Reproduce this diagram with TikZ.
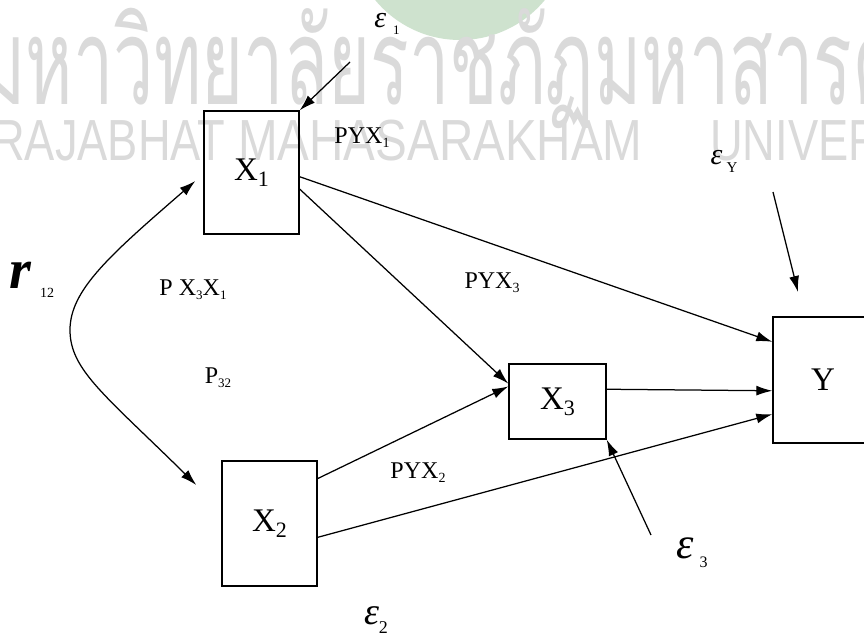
\documentclass[tikz,border=0pt]{standalone}
\usepackage{fontspec}
\setmainfont{Liberation Serif}
\newfontfamily\thaifont[Script=Thai]{Loma}
\newfontfamily\wmsans{Liberation Sans}
\usetikzlibrary{arrows.meta}
\definecolor{wm}{RGB}{218,218,218}
\definecolor{wmgreen}{RGB}{206,226,206}
\newcommand\mysub[3]{\raisebox{#1}{\fontsize{#2}{#2}\selectfont #3}}
\begin{document}
\begin{tikzpicture}[x=1pt,y=-1pt,
  box/.style={draw,line width=1.4pt,inner sep=0pt,font=\fontsize{33}{33}\selectfont},
  lab/.style={inner sep=0pt,font=\fontsize{24}{24}\selectfont},
  eps/.style={inner sep=0pt},
  conn/.style={line width=1.25pt,-{Latex[length=16pt,width=10pt]}},
  wmtext/.style={inner sep=0pt,anchor=base west,text=wm}]
\clip (0,0) rectangle (864,638);
\fill[white] (0,0) rectangle (864,638);
% watermark
\fill[wmgreen] (460,-70) circle (110);
\node[wmtext] (wth) at (-22,104) {\thaifont\fontsize{120}{120}\selectfont\scalebox{0.6}[1]{มหาวิทยาลัยราชภัฏมหาสารคาม}};
\node[wmtext] (wen1) at (-8,160) {\wmsans\fontsize{58}{58}\selectfont\scalebox{0.78}[1]{RAJABHAT}};
\node[wmtext] (wen2) at (238,160) {\wmsans\fontsize{58}{58}\selectfont\scalebox{0.82}[1]{MAHASARAKHAM}};
\node[wmtext] (wen3) at (710,160) {\wmsans\fontsize{58}{58}\selectfont\scalebox{0.78}[1]{UNIVERSITY}};
% boxes
\node[box,minimum width=95pt,minimum height=123pt] (X1) at (251.5,172.5) {X\mysub{-6pt}{22}{1}};
\node[box,minimum width=97pt,minimum height=75pt] (X3) at (557.5,401.5) {X\mysub{-6pt}{22}{3}};
\node[box,minimum width=95pt,minimum height=125pt] (X2) at (269.5,523.5) {X\mysub{-6pt}{22}{2}};
\node[box,minimum width=100pt,minimum height=126pt] (Y) at (823,380) {Y};
% connectors
\draw[conn] (X1.-5) -- (Y.143);
\draw[conn] (X1.-19) -- (X3.160);
\draw[conn] (X2.43) -- (X3.163);
\draw[conn] (X2.-16) -- (Y.-146.6);
\draw[conn] (X3.14.5) -- (Y.-168.7);
\coordinate (e1s) at (350,62);
\draw[conn] (e1s) -- (X1.north east);
\coordinate (eYs) at (773,192);
\coordinate (eYt) at (798,292);
\draw[conn] (eYs) -- (eYt);
\coordinate (e3s) at (651,535);
\draw[conn] (e3s) -- (X3.south east);
\draw[line width=1.25pt,{Latex[length=16pt,width=10pt]}-{Latex[length=16pt,width=10pt]}]
  ([shift={(-25,-38.5)}]X2.west) .. controls (105,395) and (70,370) .. (70,330)
  .. controls (70,290) and (110,255) .. ([shift={(-8,8.5)}]X1.west);
% labels
\node[lab] (lPYX1) at (362,138) {PYX\mysub{-4pt}{14}{1}};
\node[lab] (lPYX3) at (492,283) {PYX\mysub{-4pt}{14}{3}};
\node[lab] (lPYX2) at (418,473) {PYX\mysub{-4pt}{14}{2}};
\node[lab] (lPX3X1) at (193,290) {P X\mysub{-4pt}{13}{3}X\mysub{-4pt}{13}{1}};
\node[lab] (lP32) at (218,378) {P\mysub{-4pt}{13}{32}};
\node[eps] (le1) at (387,24) {\fontsize{30}{30}\selectfont\textit{ε}\hspace{7pt}\mysub{-7pt}{13}{1}};
\node[eps] (leY) at (724,161) {\fontsize{30}{30}\selectfont\textit{ε}\hspace{4pt}\mysub{-8pt}{15}{Y}};
\node[eps] (le3) at (692,553) {\fontsize{44}{44}\selectfont\textit{ε}\hspace{6pt}\mysub{-9pt}{16}{3}};
\node[eps] (le2) at (376,620) {\fontsize{38}{38}\selectfont\textit{ε}\mysub{-9pt}{18}{2}};
\node[eps] (lr) at (32,280) {\fontsize{56}{56}\selectfont\textbf{\textit{r}}\hspace{8pt}\mysub{-9pt}{14}{12}};
\end{tikzpicture}
\end{document}
